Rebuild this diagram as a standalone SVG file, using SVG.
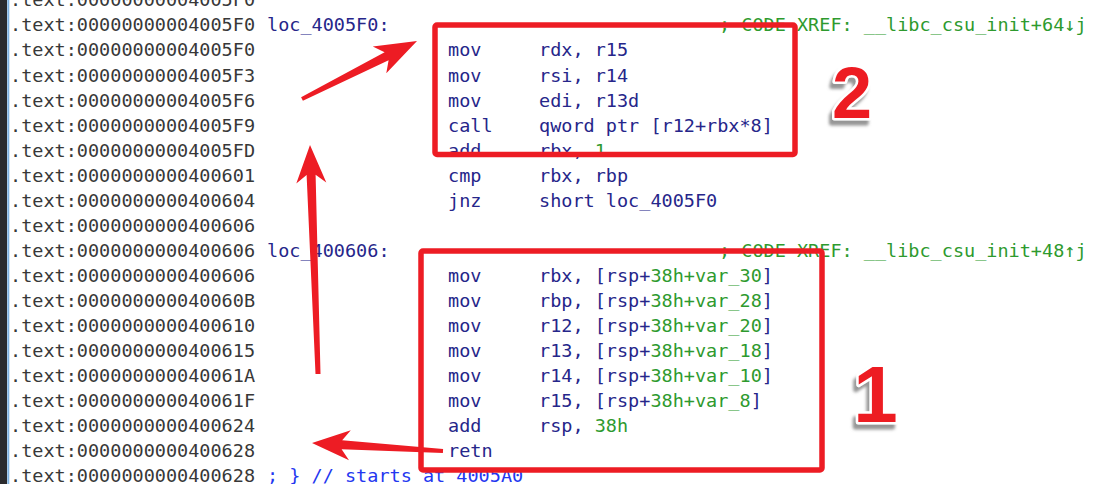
<svg xmlns="http://www.w3.org/2000/svg" width="1107" height="484" viewBox="0 0 1107 484">
<defs>
<style>
.t{font-family:"DejaVu Sans Mono","Liberation Mono",monospace;font-size:18.5px}
.a{fill:#383838}
.n{fill:#26268a}
.g{fill:#2e9a2e}
.c{fill:#2437f0}
.box{fill:none;stroke:#ed1c24;stroke-width:5.5;stroke-linejoin:round}
.arrow{fill:#ed1c24}
.num{font-family:"Liberation Sans",Arial,sans-serif;font-weight:bold;text-anchor:middle;fill:#ed1c24;stroke:#ffffff;stroke-width:5;paint-order:stroke;stroke-linejoin:round;filter:url(#shadow)}
</style>
<filter id="shadow" x="-40%" y="-30%" width="180%" height="160%">
<feDropShadow dx="-3" dy="5" stdDeviation="1.6" flood-color="#8a8a8a" flood-opacity="0.9"/>
</filter>
</defs>
<rect width="1107" height="484" fill="#ffffff"/>
<rect x="0" y="0" width="7" height="484" fill="#2b2b2e"/>
<rect x="7.3" y="0" width="2" height="484" fill="#7fb2e2"/>

<g id="listing" class="t">
<text class="a" x="10" y="6.3">.text:00000000004005F0</text>
<text class="a" x="10" y="31.4">.text:00000000004005F0</text>
<text class="a" x="10" y="56.4">.text:00000000004005F0</text>
<text class="a" x="10" y="81.5">.text:00000000004005F3</text>
<text class="a" x="10" y="106.5">.text:00000000004005F6</text>
<text class="a" x="10" y="131.6">.text:00000000004005F9</text>
<text class="a" x="10" y="156.6">.text:00000000004005FD</text>
<text class="a" x="10" y="181.7">.text:0000000000400601</text>
<text class="a" x="10" y="206.7">.text:0000000000400604</text>
<text class="a" x="10" y="231.8">.text:0000000000400606</text>
<text class="a" x="10" y="256.8">.text:0000000000400606</text>
<text class="a" x="10" y="281.9">.text:0000000000400606</text>
<text class="a" x="10" y="306.9">.text:000000000040060B</text>
<text class="a" x="10" y="332.0">.text:0000000000400610</text>
<text class="a" x="10" y="357.0">.text:0000000000400615</text>
<text class="a" x="10" y="382.1">.text:000000000040061A</text>
<text class="a" x="10" y="407.1">.text:000000000040061F</text>
<text class="a" x="10" y="432.2">.text:0000000000400624</text>
<text class="a" x="10" y="457.2">.text:0000000000400628</text>
<text class="a" x="10" y="482.3">.text:0000000000400628</text>

<text class="n" x="267" y="31.4">loc_4005F0:</text>
<text class="g" x="719" y="31.4">; CODE XREF: __libc_csu_init+64↓j</text>
<text class="n" x="448" y="56.4">mov</text><text class="n" x="539" y="56.4">rdx, r15</text>
<text class="n" x="448" y="81.5">mov</text><text class="n" x="539" y="81.5">rsi, r14</text>
<text class="n" x="448" y="106.5">mov</text><text class="n" x="539" y="106.5">edi, r13d</text>
<text class="n" x="448" y="131.6">call</text><text class="n" x="539" y="131.6">qword ptr [r12+rbx*8]</text>
<text class="n" x="448" y="156.6">add</text><text class="n" x="539" y="156.6">rbx, <tspan class="g">1</tspan></text>
<text class="n" x="448" y="181.7">cmp</text><text class="n" x="539" y="181.7">rbx, rbp</text>
<text class="n" x="448" y="206.7">jnz</text><text class="n" x="539" y="206.7">short loc_4005F0</text>

<text class="n" x="267" y="256.8">loc_400606:</text>
<text class="g" x="719" y="256.8">; CODE XREF: __libc_csu_init+48↑j</text>
<text class="n" x="448" y="281.9">mov</text><text class="n" x="539" y="281.9">rbx, [rsp+<tspan class="g">38h+var_30</tspan>]</text>
<text class="n" x="448" y="306.9">mov</text><text class="n" x="539" y="306.9">rbp, [rsp+<tspan class="g">38h+var_28</tspan>]</text>
<text class="n" x="448" y="332.0">mov</text><text class="n" x="539" y="332.0">r12, [rsp+<tspan class="g">38h+var_20</tspan>]</text>
<text class="n" x="448" y="357.0">mov</text><text class="n" x="539" y="357.0">r13, [rsp+<tspan class="g">38h+var_18</tspan>]</text>
<text class="n" x="448" y="382.1">mov</text><text class="n" x="539" y="382.1">r14, [rsp+<tspan class="g">38h+var_10</tspan>]</text>
<text class="n" x="448" y="407.1">mov</text><text class="n" x="539" y="407.1">r15, [rsp+<tspan class="g">38h+var_8</tspan>]</text>
<text class="n" x="448" y="432.2">add</text><text class="n" x="539" y="432.2">rsp, <tspan class="g">38h</tspan></text>
<text class="n" x="448" y="457.2">retn</text>
<text class="c" x="267" y="482.3">; } // starts at 4005A0</text>
</g>

<g id="box2">
<rect class="box" x="435" y="25" width="360" height="129.5" rx="2"/>
</g>
<g id="box1">
<rect class="box" x="421" y="251" width="401" height="219" rx="2"/>
</g>

<g id="label2">
<text class="num" x="852" y="118" font-size="72">2</text>
</g>
<g id="label1">
<text class="num" x="875.5" y="422" font-size="80">1</text>
</g>

<g id="connectors">
<polygon class="arrow" points="302.9,100.8 388.6,60.3 386.3,73.3 417,41 372.8,46.5 384.6,52.3 301.1,97.2"/>
<polygon class="arrow" points="320.5,373.9 315.6,174.8 326.3,182.5 310,145 296.3,183.5 306.6,175.1 315.5,374.1"/>
<polygon class="arrow" points="443.1,449 342.2,440.3 350.8,430.3 312,443 349,460.3 341.6,449.3 442.9,453"/>
</g>
</svg>
